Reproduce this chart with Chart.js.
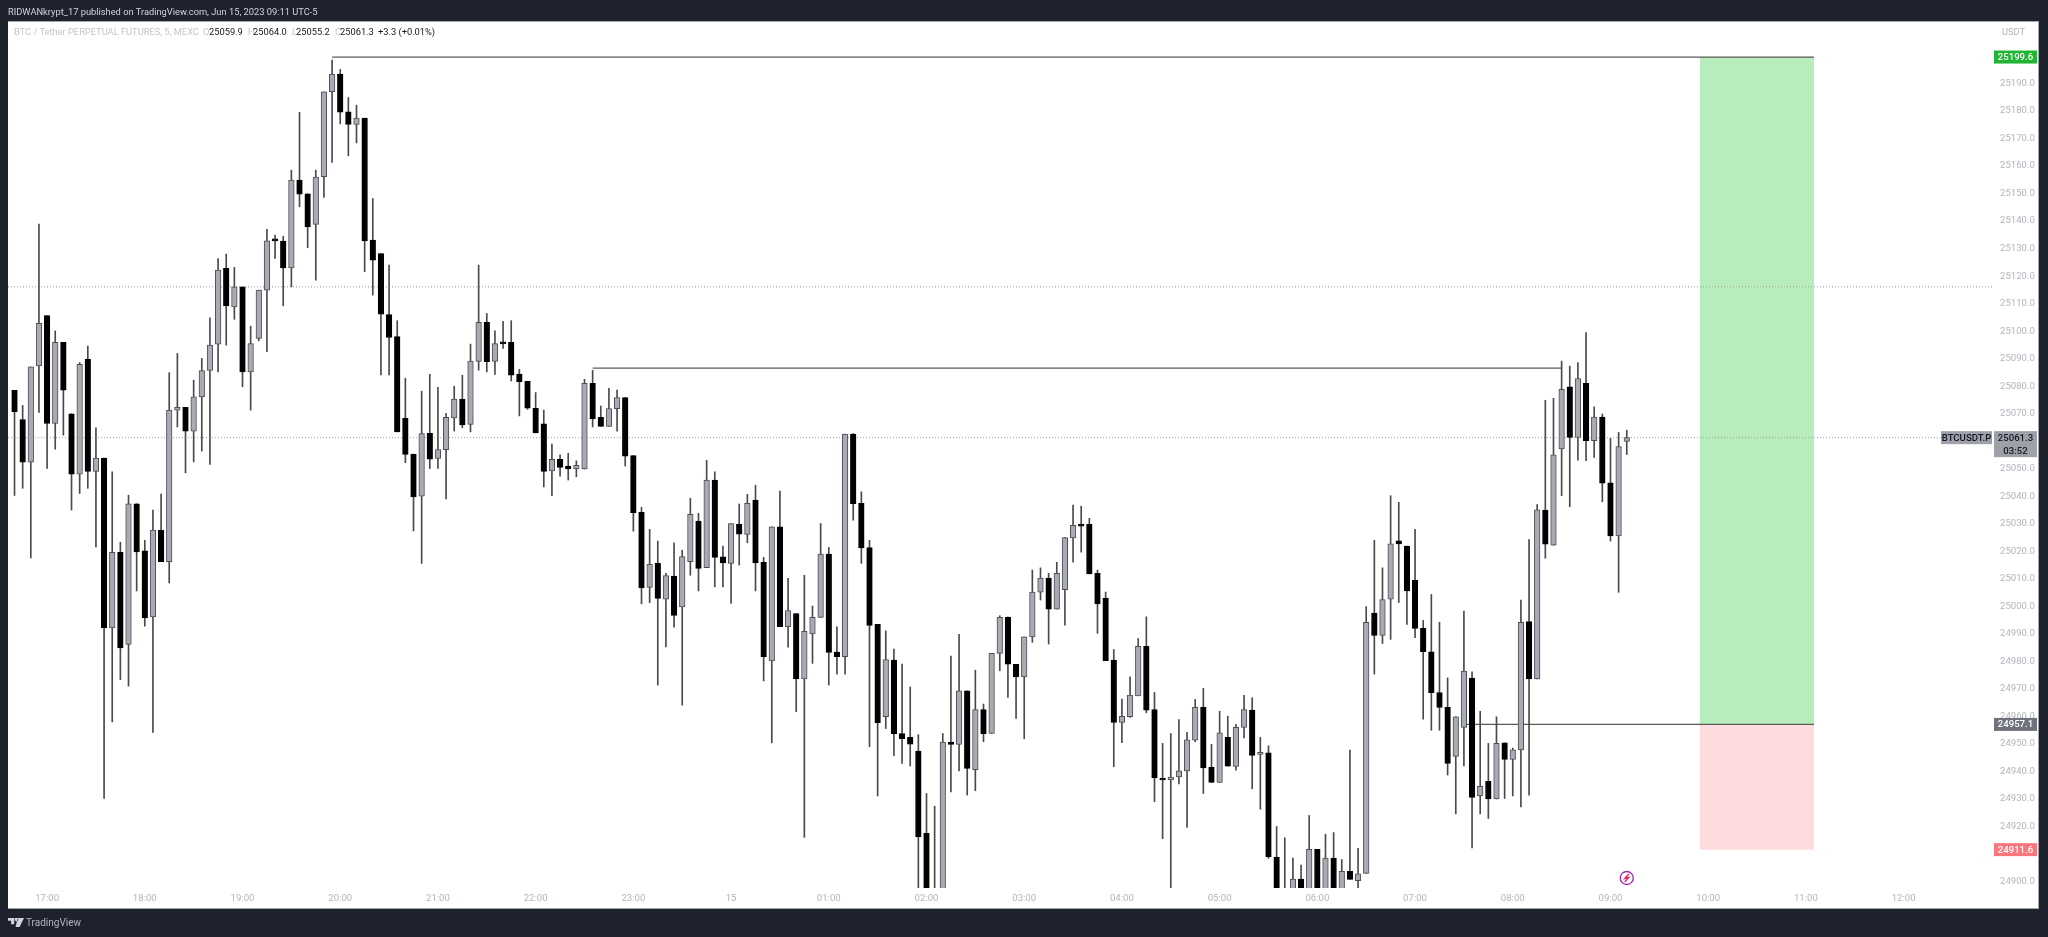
<!DOCTYPE html>
<html>
<head>
<meta charset="utf-8">
<title>BTCUSDT.P 5m</title>
<script src="https://cdn.jsdelivr.net/npm/chart.js@4/dist/chart.umd.min.js"></script>
<style>
  html, body { margin: 0; padding: 0; background: #1e222d; overflow: hidden; }
  #frame { position: relative; width: 2048px; height: 937px; font-family: Roboto, sans-serif; }
  #pane { position: absolute; left: 8px; top: 21px; width: 2031px; height: 888px; background: #fff; box-sizing: border-box; border: 1px solid #a3a6af; border-left: 0; }
  #my-chart { position: absolute; left: 0; top: 0; }
  .txt { position: absolute; white-space: nowrap; line-height: 14px; font-size: 9.3px; }
  #published { left: 8px; top: 5px; color: #d1d4dc; }
  #legend-name { left: 14px; top: 25px; color: #c3c5cc; }
  .val { top: 25px; color: #131722; }
  .lbl { top: 25px; color: #c3c5cc; }
  #unit { left: 2002px; top: 25px; color: #b2b5be; }
  #brand { left: 26px; top: 916px; color: #b2b5be; font-size: 10px; }
  #logo { position: absolute; left: 8px; top: 918px; }
</style>
</head>
<body>
<div id="frame">
  <div id="pane"></div>
  <canvas id="my-chart" width="2048" height="937"></canvas>
  <div class="txt" id="published">RIDWANkrypt_17 published on TradingView.com, Jun 15, 2023 09:11 UTC-5</div>
  <div class="txt" id="legend-name">BTC / Tether PERPETUAL FUTURES, 5, MEXC</div>
  <div class="txt lbl" style="left:203px">O</div><div class="txt val" style="left:209px">25059.9</div>
  <div class="txt lbl" style="left:248px">H</div><div class="txt val" style="left:253px">25064.0</div>
  <div class="txt lbl" style="left:292px">L</div><div class="txt val" style="left:296px">25055.2</div>
  <div class="txt lbl" style="left:335px">C</div><div class="txt val" style="left:340px">25061.3</div>
  <div class="txt val" style="left:378px">+3.3 (+0.01%)</div>
  <div class="txt" id="unit">USDT</div>
  <svg id="logo" width="16" height="9" viewBox="0 0 36 20"><path fill="#d1d4dc" d="M0 0h14v14H7V6H0zM22 0h14L26 20h-9zM15 3a4 4 0 1 0 8 0a4 4 0 1 0-8 0z"/></svg>
  <div class="txt" id="brand">TradingView</div>
</div>
<script>
//Candles, 5 minute bars, first one is 16:40
let opens = [
  25078.5,25067.9,25052.4,25087.4,25105.7,25066.5,25095.9,25070.0,25048.0,25089.8,
  25049.0,25053.9,24992.2,25019.6,24986.2,25037.3,25020.2,24996.2,25027.6,25016.2,
  25071.3,25072.3,25063.7,25076.1,25085.7,25095.3,25122.8,25108.8,25116.1,25085.2,
  25097.4,25114.9,25133.1,25132.7,25123.0,25154.9,25149.9,25138.8,25156.1,25187.0,
  25193.4,25179.7,25175.1,25177.4,25133.1,25128.2,25106.0,25098.0,25068.3,25055.3,
  25040.0,25062.9,25053.8,25056.9,25068.5,25075.3,25066.1,25089.0,25103.2,25089.0,
  25095.9,25095.9,25084.4,25081.8,25072.0,25066.3,25049.2,25053.4,25051.0,25049.9,
  25049.9,25081.0,25068.7,25065.4,25071.8,25075.9,25054.8,25034.2,25006.9,25015.6,
  25002.6,25011.0,24999.8,25016.2,25031.0,25014.1,25045.9,25018.0,25015.6,25029.8,
  25026.1,25038.6,25016.0,24980.2,25028.9,24992.6,24997.4,24973.6,24990.0,24996.0,
  25019.0,24983.4,24981.7,25062.6,25037.4,25021.4,24993.5,24959.9,24980.5,24953.8,
  24952.4,24947.4,24917.5,24895.0,24888.0,24950.7,24949.8,24969.3,24940.7,24962.5,
  24953.8,24982.9,24996.0,24978.9,24974.4,24988.9,25005.2,25010.3,24999.0,25006.1,
  25024.9,25029.4,25029.8,25012.0,25003.0,24980.5,24957.8,24959.9,24967.5,24985.5,
  24962.5,24937.1,24936.9,24938.0,24940.2,24951.4,24963.3,24941.5,24936.0,24952.4,
  24941.8,24956.0,24962.3,24946.2,24946.8,24908.9,24896.0,24890.0,24900.9,24890.0,
  24911.7,24888.0,24908.5,24892.0,24903.7,24900.3,24903.0,24997.6,24989.4,25002.6,
  25023.8,25021.9,25009.5,24992.0,24983.5,24968.7,24963.3,24945.5,24956.0,24973.9,
  24931.1,24936.4,24930.0,24950.4,24944.4,24947.8,24994.5,24973.6,25035.0,25022.2,
  25057.2,25079.8,25061.4,25081.0,25060.2,25068.8,25044.9,25025.6,25059.9
];
let highs = [
  25078.5,25073.0,25087.0,25138.9,25105.7,25100.1,25095.9,25070.0,25088.6,25094.6,
  25064.9,25053.9,25048.9,25023.3,25040.4,25037.3,25024.0,25035.0,25040.8,25084.9,
  25091.9,25072.3,25082.2,25090.1,25104.8,25126.4,25128.0,25123.2,25116.1,25101.8,
  25114.9,25137.0,25134.9,25134.5,25158.5,25179.5,25149.9,25158.5,25187.0,25198.5,
  25195.1,25184.9,25182.1,25177.4,25148.2,25128.2,25124.0,25103.8,25082.9,25055.3,
  25078.2,25084.3,25079.6,25070.1,25080.0,25084.0,25095.3,25124.0,25106.4,25100.1,
  25103.6,25103.8,25086.1,25081.8,25077.7,25071.3,25059.0,25055.1,25055.6,25052.9,
  25082.5,25085.8,25072.8,25079.2,25078.6,25075.9,25054.8,25036.0,25028.0,25023.7,
  25012.0,25023.1,25020.4,25039.3,25033.8,25053.1,25048.9,25021.9,25030.1,25037.2,
  25040.7,25044.0,25017.8,25028.9,25041.9,25010.2,24997.4,25011.3,25000.1,25030.1,
  25021.4,24992.6,25062.6,25062.8,25041.6,25024.0,24993.5,24991.1,24984.5,24979.0,
  24970.7,24953.4,24932.0,24927.4,24953.8,24981.9,24989.8,24969.3,24976.8,24964.5,
  24982.9,24996.6,24996.2,24978.9,24988.9,25013.2,25014.0,25012.0,25016.0,25025.0,
  25036.8,25036.4,25032.0,25013.2,25005.2,24984.3,24966.3,24974.4,24988.3,24996.2,
  24968.7,24950.2,24953.8,24958.9,24954.2,24966.2,24970.2,24949.9,24961.9,24960.1,
  24957.1,24967.7,24966.8,24952.4,24949.3,24920.0,24915.9,24908.5,24906.0,24924.0,
  24911.7,24917.2,24917.8,24908.0,24947.8,24912.1,24999.9,25024.0,25014.0,25040.2,
  25037.8,25021.9,25028.0,24994.9,25004.3,24994.2,24974.0,24959.9,24998.3,24976.2,
  24961.9,24950.2,24959.9,24950.4,24948.5,25002.3,25024.3,25037.0,25074.9,25075.6,
  25089.1,25087.3,25088.6,25099.5,25072.5,25069.9,25061.0,25063.2,25064.0
];
let lows = [
  25040.3,25042.9,25017.6,25070.5,25050.1,25057.1,25062.2,25035.0,25041.0,25042.9,
  25021.6,24930.2,24958.0,24973.4,24971.0,25005.6,24992.8,24954.2,25016.2,25008.5,
  25065.2,25048.5,25052.5,25056.4,25051.6,25085.2,25094.9,25104.3,25079.8,25071.3,
  25096.5,25092.5,25126.4,25109.2,25116.1,25145.2,25130.3,25118.5,25148.6,25161.3,
  25175.3,25163.7,25168.4,25121.6,25113.1,25084.1,25084.1,25063.4,25052.2,25027.4,
  25015.6,25050.1,25050.1,25039.0,25063.7,25064.9,25063.4,25085.8,25085.2,25084.3,
  25093.7,25081.9,25069.2,25071.6,25063.0,25043.4,25040.2,25047.3,25045.9,25047.1,
  25049.9,25065.2,25065.4,25065.4,25063.7,25051.0,25027.3,25000.9,25001.3,24971.4,
  24985.3,24992.4,24964.1,25011.3,25005.6,25014.1,25007.1,25007.1,25001.1,25015.0,
  25023.1,25005.6,24972.9,24950.4,24992.6,24985.2,24961.7,24916.0,24979.3,24996.0,
  24971.4,24975.4,24975.4,25031.3,25015.6,24949.0,24931.1,24955.6,24945.7,24942.9,
  24942.0,24885.0,24882.0,24885.0,24885.0,24932.6,24940.2,24931.4,24933.0,24950.8,
  24953.8,24976.6,24966.9,24959.3,24951.9,24986.9,25002.3,24986.3,24999.0,24993.2,
  25016.1,25019.7,25011.8,24990.2,24980.3,24941.7,24950.5,24959.6,24967.5,24961.3,
  24929.0,24915.6,24893.0,24935.5,24919.7,24950.8,24932.0,24936.0,24936.0,24941.9,
  24940.5,24952.2,24933.7,24926.3,24908.4,24885.0,24885.0,24885.0,24885.0,24885.0,
  24885.0,24885.0,24888.0,24888.0,24900.8,24895.0,24903.0,24975.4,24986.5,24988.0,
  25001.4,24993.4,24988.6,24959.0,24955.0,24955.0,24938.7,24924.6,24942.0,24912.2,
  24924.6,24922.9,24930.0,24930.2,24931.1,24927.1,24931.4,24973.6,25017.5,25022.2,
  25040.2,25036.2,25053.1,25052.9,25054.1,25038.0,25023.7,25005.1,25055.2
];
let closes = [
  25070.7,25052.4,25087.0,25102.8,25066.5,25095.9,25078.6,25048.0,25087.9,25049.0,
  25053.9,24992.2,25019.6,24984.9,25037.3,25019.8,24995.8,25027.7,25016.2,25071.3,
  25072.3,25063.7,25076.1,25085.7,25094.9,25122.2,25109.2,25116.1,25085.2,25095.5,
  25114.9,25132.8,25132.8,25123.0,25154.9,25149.8,25137.9,25156.0,25187.0,25193.4,
  25179.6,25175.1,25177.4,25132.8,25125.8,25106.2,25097.7,25063.4,25055.2,25039.8,
  25062.8,25053.5,25057.0,25068.7,25075.3,25065.9,25089.1,25103.2,25088.9,25095.5,
  25095.4,25084.0,25081.6,25072.0,25063.0,25049.0,25053.4,25050.5,25049.9,25051.2,
  25081.0,25068.1,25065.4,25071.9,25075.9,25054.6,25034.0,25006.7,25015.3,25002.9,
  25011.2,24996.7,25018.1,25033.4,25013.8,25045.9,25017.8,25015.8,25030.1,25026.2,
  25037.4,25015.8,24981.7,25028.9,24992.6,24998.5,24973.6,24990.9,24996.0,25019.0,
  24983.3,24981.7,25062.6,25037.3,25021.2,24993.1,24957.7,24980.7,24953.7,24951.9,
  24949.9,24916.2,24890.0,24888.0,24950.7,24949.8,24969.3,24941.1,24962.5,24953.7,
  24982.9,24996.0,24979.0,24974.4,24988.9,25005.2,25010.3,24999.0,25012.0,25025.0,
  25029.4,25029.1,25011.8,25000.9,24980.3,24957.8,24960.0,24967.8,24985.5,24962.3,
  24937.7,24936.9,24938.0,24940.2,24951.5,24963.3,24941.3,24936.0,24954.0,24941.9,
  24956.0,24962.5,24945.8,24946.8,24909.0,24890.0,24888.0,24900.9,24890.0,24911.7,
  24888.0,24908.5,24892.0,24903.7,24900.8,24902.8,24994.2,24989.4,25002.5,25022.7,
  25022.7,25005.6,24992.0,24983.5,24968.6,24963.3,24942.9,24959.9,24976.5,24930.6,
  24934.6,24930.0,24950.2,24944.4,24947.9,24994.2,24973.6,25035.1,25022.6,25055.1,
  25078.9,25061.4,25082.8,25060.2,25068.8,25044.8,25025.6,25058.1,25061.3
];

//Axis labels. First hour label sits on bar index 4, then one every 12 bars
let hourLabels = ['17:00','18:00','19:00','20:00','21:00','22:00','23:00','15','01:00','02:00','03:00','04:00','05:00','06:00','07:00','08:00','09:00','10:00','11:00','12:00'];
let priceTicks = [24900,24910,24920,24930,24940,24950,24960,24970,24980,24990,25000,25010,25020,25030,25040,25050,25060,25070,25080,25090,25100,25110,25120,25130,25140,25150,25160,25170,25180,25190];

//Long position tool and the drawn levels
let targetPrice = 25199.6;
let entryPrice = 24957.1;
let stopPrice = 24911.6;
let lastPrice = 25061.3;
let dottedLevel = 25116.1;
let middleLevel = 25086.6;
let countdown = '03:52';
let tickerName = 'BTCUSDT.P';

//Bar index limits of the view and of the drawings
let viewStart = -0.8;
let viewEnd = 243.1;
let toolStart = 206.95;
let toolEnd = 221;

//Styles
let bullFill = '#a9abb3';
let bullBorder = '#4d4f57';
let bearFill = '#000000';
let wickColor = '#4a4a4a';
let drawColor = '#5a5a5a';

let bodyData = [];
let wickData = [];
let bodyFill = [];
let bodyBorder = [];

for (let i = 0; i < opens.length; i++) {
  bodyData.push({ x: i, y: [opens[i], closes[i]] });
  wickData.push({ x: i, y: [lows[i], highs[i]] });
  bodyFill.push(closes[i] >= opens[i] ? bullFill : bearFill);
  bodyBorder.push(closes[i] >= opens[i] ? bullBorder : bearFill);
}

function levelLine(price, from, to, color, width, dash, order) {
  return {
    type: 'line',
    data: [{ x: from, y: price }, { x: to, y: price }],
    borderColor: color,
    borderWidth: width,
    borderDash: dash,
    pointRadius: 0,
    fill: false,
    order: order
  };
}

function zone(top, bottom, color) {
  return {
    type: 'line',
    data: [{ x: toolStart, y: top }, { x: toolEnd, y: top }],
    borderWidth: 0,
    pointRadius: 0,
    backgroundColor: color,
    fill: { value: bottom },
    order: 6
  };
}

//Price badges on the right axis, the last price label and the small marker
let overlay = {
  id: 'overlay',
  afterDraw(chart) {
    let c = chart.ctx;
    let y = chart.scales.y;
    let x = chart.scales.x;
    c.save();
    c.font = '500 9.6px Roboto';
    c.textBaseline = 'middle';
    c.textAlign = 'center';

    function badge(price, color, textColor) {
      let py = y.getPixelForValue(price);
      c.fillStyle = color;
      c.fillRect(1994, py - 6.5, 43, 13);
      c.fillStyle = textColor;
      c.fillText(price.toFixed(1), 2015.5, py + 0.5);
    }
    badge(targetPrice, '#22b534', '#ffffff');
    badge(entryPrice, '#6f717c', '#ffffff');
    badge(stopPrice, '#f9777c', '#ffffff');

    let ly = y.getPixelForValue(lastPrice);
    c.fillStyle = '#9fa1aa';
    c.fillRect(1941, ly - 6.5, 51, 13);
    c.fillRect(1994, ly - 6.5, 43, 26);
    c.fillStyle = '#131722';
    c.fillText(tickerName, 1966.5, ly + 0.5);
    c.fillText(lastPrice.toFixed(1), 2015.5, ly + 0.5);
    c.fillText(countdown, 2015.5, ly + 13.5);

    //lightning marker under the last bar
    let mx = x.getPixelForValue(opens.length - 1);
    let my = 878;
    c.strokeStyle = '#9c27b0';
    c.lineWidth = 1.3;
    c.beginPath();
    c.arc(mx, my, 6.5, 0, Math.PI * 2);
    c.stroke();
    c.strokeStyle = '#e91e63';
    c.beginPath();
    c.moveTo(mx + 2, my - 4);
    c.lineTo(mx - 2, my + 0.5);
    c.lineTo(mx + 2, my - 0.5);
    c.lineTo(mx - 2, my + 4);
    c.stroke();
    c.restore();
  }
};

let chartObject = {
  type: 'bar',
  data: {
    datasets: [
      {
        data: bodyData,
        backgroundColor: bodyFill,
        borderColor: bodyBorder,
        borderWidth: 1,
        borderSkipped: false,
        barThickness: 5.6,
        minBarLength: 2,
        grouped: false,
        order: 1
      },
      {
        data: wickData,
        backgroundColor: wickColor,
        borderWidth: 0,
        barThickness: 1,
        grouped: false,
        order: 2
      },
      levelLine(targetPrice, 39, toolEnd, drawColor, 1.3, [], 3),
      levelLine(middleLevel, 71, 190, drawColor, 1.3, [], 3),
      levelLine(entryPrice, 178, toolEnd, drawColor, 1.3, [], 3),
      levelLine(dottedLevel, viewStart, viewEnd, '#9d9ea3', 1, [1, 2], 4),
      levelLine(lastPrice, viewStart, viewEnd, '#9d9ea3', 1, [1, 2], 4),
      zone(targetPrice, entryPrice, '#b7edbc'),
      zone(entryPrice, stopPrice, '#fcdcdc')
    ]
  },
  options: {
    responsive: false,
    animation: false,
    layout: { padding: { left: 8, top: 21, right: 9, bottom: 28 } },
    plugins: { legend: { display: false }, tooltip: { enabled: false } },
    scales: {
      x: {
        type: 'linear',
        offset: false,
        min: viewStart,
        max: viewEnd,
        grid: { display: false, drawTicks: false },
        border: { display: false },
        afterFit(scale) {
          scale.height = 21;
          scale.paddingLeft = 0;
          scale.paddingRight = 0;
        },
        afterBuildTicks(scale) {
          scale.ticks = hourLabels.map((label, k) => ({ value: 4 + 12 * k }));
        },
        afterTickToLabelConversion(scale) {
          scale.ticks.forEach((t, k) => { t.label = hourLabels[k]; });
        },
        ticks: {
          autoSkip: false,
          maxRotation: 0,
          padding: 5,
          color: '#b2b5be',
          font: { family: 'Roboto', size: 9.6 }
        }
      },
      y: {
        position: 'right',
        min: 24897.66,
        max: 25212.7,
        grid: { display: false, drawTicks: false },
        border: { display: false },
        afterFit(scale) {
          scale.width = 45;
          scale.paddingTop = 0;
          scale.paddingBottom = 0;
        },
        afterBuildTicks(scale) {
          scale.ticks = priceTicks.map(v => ({ value: v }));
        },
        ticks: {
          padding: 6,
          color: '#b2b5be',
          font: { family: 'Roboto', size: 9.6 },
          callback: v => Number(v).toFixed(1)
        }
      }
    }
  },
  plugins: [overlay]
};

const myChart = new Chart(document.getElementById('my-chart'), chartObject);
</script>
</body>
</html>
